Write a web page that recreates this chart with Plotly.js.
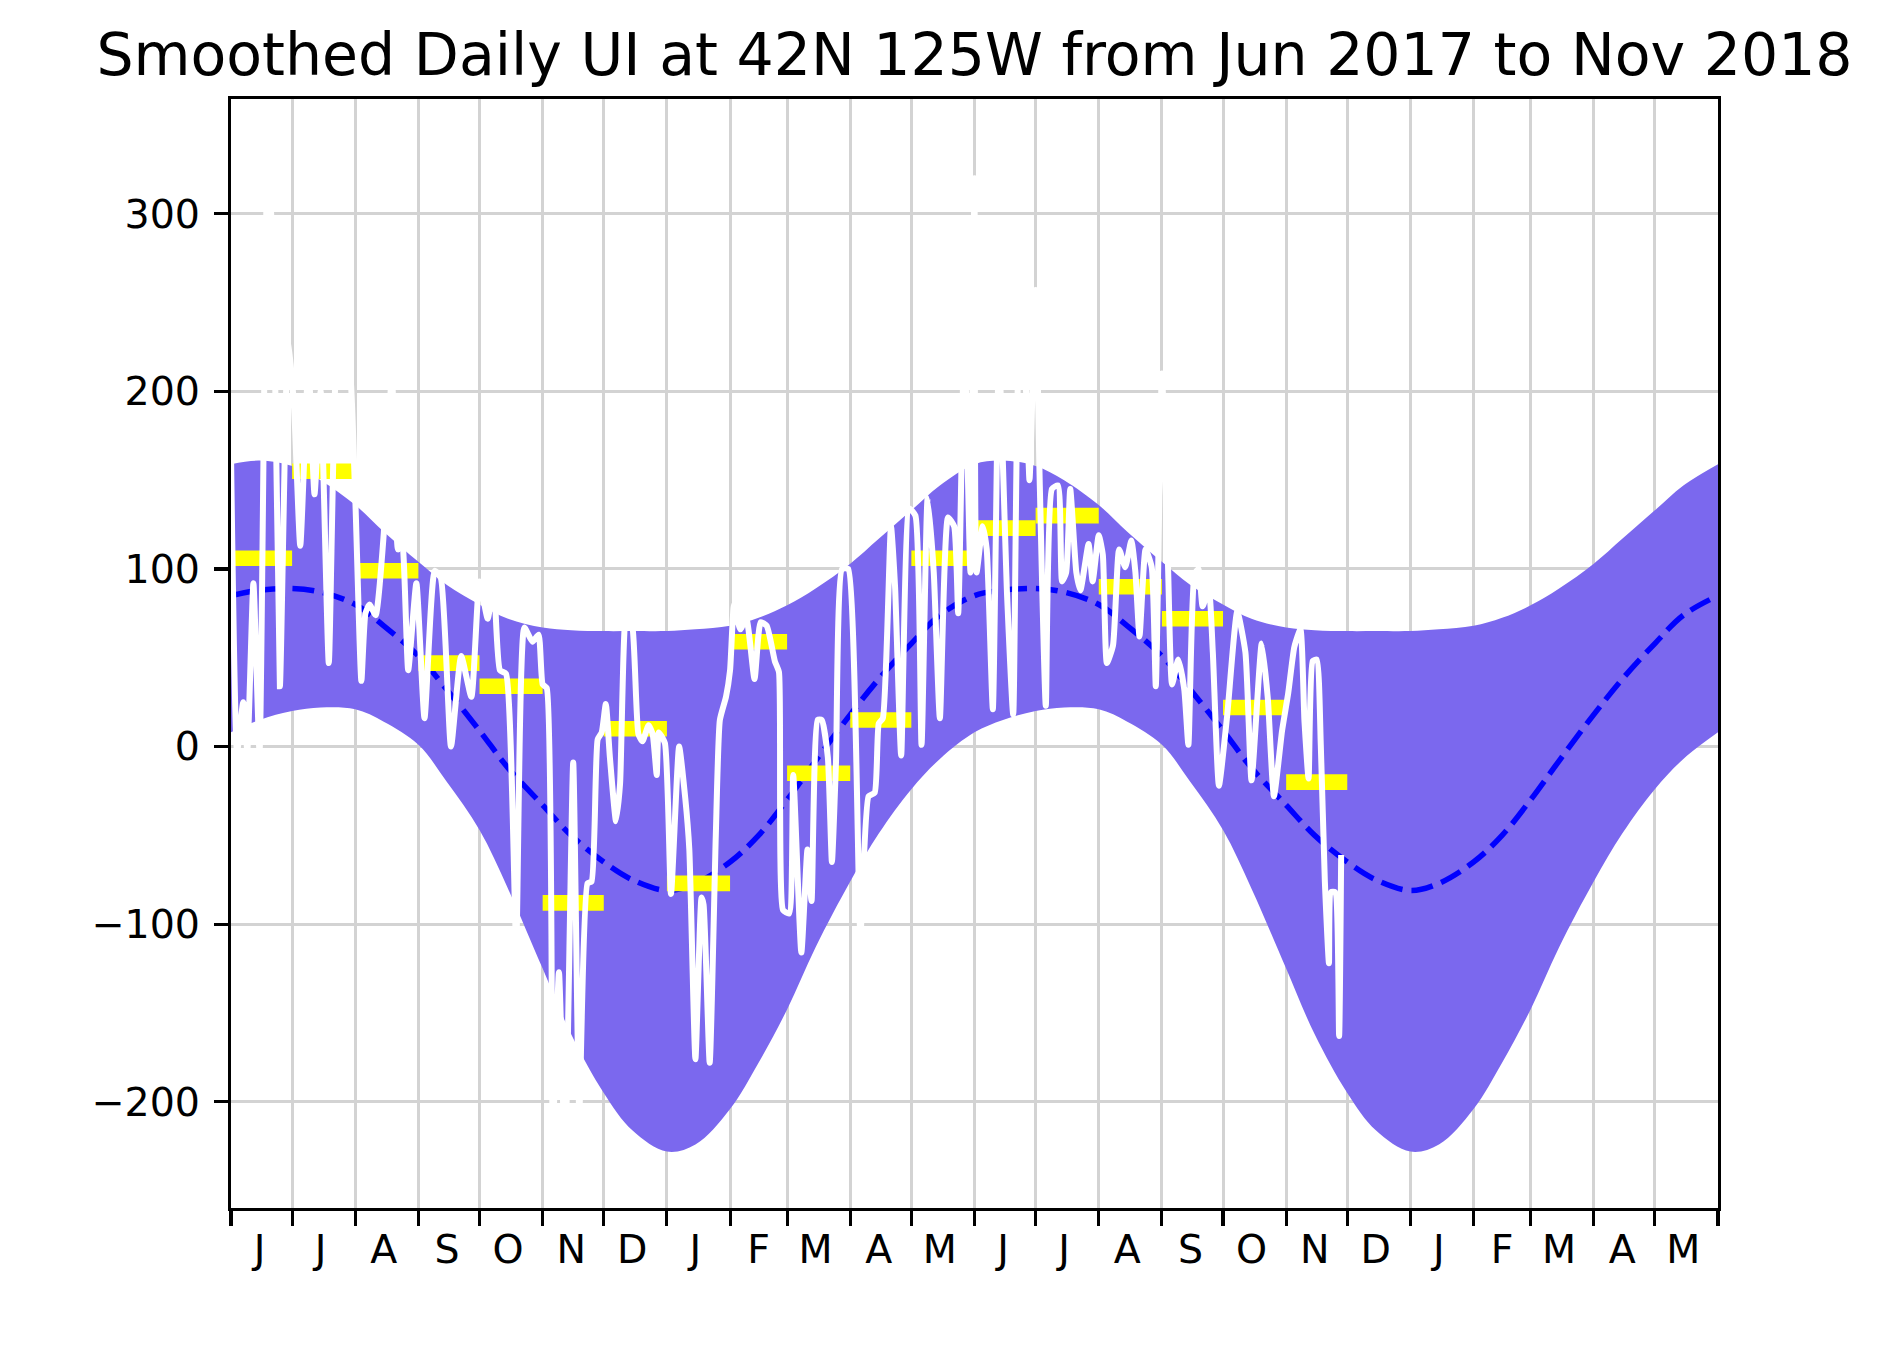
<!DOCTYPE html>
<html>
<head>
<meta charset="utf-8">
<script src="https://cdn.plot.ly/plotly-3.0.1.min.js"></script>
<style>
  html, body { margin: 0; padding: 0; background: #ffffff; }
  #chart { width: 1880px; height: 1357px; }
</style>
</head>
<body>
<div id="chart"></div>
<script>
// ---------- DATA ----------
const chartTitle = "Smoothed Daily UI at 42N 125W from Jun 2017 to Nov 2018";
const startDate = "2017-06-01";   // day 0

// smoothed daily upwelling index (day offset from 2017-06-01, value)
const uiDays = [0,3,6,8,11,14,18,21,24,28,31,34,38,41,44,48,52,55,58,61,64,66,68,71,75,79,82,84,87,91,95,100,103,108,113,118,122,126,129,132,135,140,144,148,151,153,155,158,161,164,168,171,175,177,180,182,184,186,189,191,194,197,200,202,205,207,209,210,213,216,220,223,225,228,231,232,235,238,240,243,245,247,250,253,257,260,263,267,269,271,274,276,280,283,285,288,290,293,295,297,300,303,309,313,316,318,320,324,326,329,333,336,339,342,345,348,352,355,357,360,363,365,366,369,371,374,377,381,384,387,390,392,395,397,400,403,406,408,410,412,415,417,421,423,426,428,430,433,436,439,442,444,446,449,452,454,457,460,462,465,468,470,473,475,477,480,482,485,489,494,498,501,506,509,512,516,519,522,525,527,529,531,533,535,537,539,540,542,544,545];
const uiValues = [165,-3,25,-2,92,-3,335,260,34,230,190,113,215,142,200,47,220,205,215,140,37,75,80,74,120,210,111,116,43,92,16,99,95,0,51,28,93,72,91,43,41,-110,67,59,63,35,33,-215,-127,-232,-9,-205,-77,-76,4,8,24,-6,-42,-21,75,68,7,3,12,7,-16,8,2,-83,0,-29,-58,-176,-85,-89,-178,-50,15,28,43,80,66,72,38,70,68,48,42,-92,-94,-16,-116,-58,-87,15,15,-6,-65,-9,100,100,-105,-28,-26,13,16,124,90,-5,134,130,1,140,98,16,129,124,75,230,98,320,98,124,111,21,220,85,18,220,205,150,257,150,23,145,147,93,98,145,98,88,114,93,119,108,47,57,111,101,116,98,62,111,101,34,210,102,35,49,32,1,97,100,79,89,53,-22,17,76,53,-19,58,27,-28,9,30,56,66,14,-18,48,49,1,-76,-122,-82,-82,-163,-61];

// monthly means (yellow bars)
const monthStarts = ["2017-06-01","2017-07-01","2017-08-01","2017-09-01","2017-10-01","2017-11-01","2017-12-01","2018-01-01","2018-02-01","2018-03-01","2018-04-01","2018-05-01","2018-06-01","2018-07-01","2018-08-01","2018-09-01","2018-10-01","2018-11-01","2018-12-01"];
const monthMeans = [106,155,99,47,34,-88,10,-77,59,-15,15,106,123,130,90,72,22,-20];

// climatology over one Jun-May cycle (day offset from Jun 1)
const climOffsets = [0,14,30,44,61,75,92,106,122,136,153,167,183,197,214,228,245,259,273,287,304,318,334,348];
const climMean  = [85,88,89,87,80,68,51,32,9,-12,-33,-50,-65,-75,-81,-77,-65,-50,-30,-8,18,38,58,74];
const climUpper = [159,161,158,150,136,121,104,91,80,72,67,65.5,65,65,65,66,68,72.5,79.5,89,103,117,133,147];
const climLower = [8,15,20,22,21,14,1,-20,-47,-80,-125,-162,-195,-216,-228,-224,-204,-178,-148,-113,-76,-49,-24,-7];

// axis labels
const monthTickStarts = ["2017-06-01","2017-07-01","2017-08-01","2017-09-01","2017-10-01","2017-11-01","2017-12-01","2018-01-01","2018-02-01","2018-03-01","2018-04-01","2018-05-01","2018-06-01","2018-07-01","2018-08-01","2018-09-01","2018-10-01","2018-11-01","2018-12-01","2019-01-01","2019-02-01","2019-03-01","2019-04-01","2019-05-01","2019-06-01"];
const monthLetters = ["J","J","A","S","O","N","D","J","F","M","A","M","J","J","A","S","O","N","D","J","F","M","A","M"];
const yTicks = [-200,-100,0,100,200,300];

// ---------- BUILD ----------
const base = Date.UTC(2017, 5, 1);
function dayToDate(d) {
  return new Date(base + d * 86400000).toISOString().slice(0, 10);
}
const uiX = uiDays.map(dayToDate);

const climX = [], meanY = [], upY = [], loY = [];
for (let yr = 0; yr < 2; yr++) {
  for (let i = 0; i < climOffsets.length; i++) {
    climX.push(dayToDate(climOffsets[i] + 365 * yr));
    meanY.push(climMean[i]); upY.push(climUpper[i]); loY.push(climLower[i]);
  }
}
climX.push(dayToDate(730)); meanY.push(climMean[0]); upY.push(climUpper[0]); loY.push(climLower[0]);

const barX = [], barY = [];
for (let i = 0; i < monthMeans.length; i++) {
  barX.push(monthStarts[i], monthStarts[i + 1], null);
  barY.push(monthMeans[i], monthMeans[i], null);
}
// label positions at the 15th of each month
const labelVals = monthTickStarts.slice(0, 24).map(s => s.slice(0, 8) + "15");

const smooth = { shape: "spline", smoothing: 1.0 };
const traces = [
  { x: climX, y: loY, mode: "lines", line: Object.assign({ width: 0 }, smooth), hoverinfo: "skip", showlegend: false },
  { x: climX, y: upY, mode: "lines", fill: "tonexty", fillcolor: "#7B68EE", line: Object.assign({ width: 0 }, smooth), hoverinfo: "skip", showlegend: false },
  { x: climX, y: meanY, mode: "lines", line: Object.assign({ color: "#0000FF", width: 5.5, dash: "22px,9px" }, smooth), showlegend: false },
  { x: barX, y: barY, mode: "lines", connectgaps: false, line: { color: "#FFFF00", width: 15.6 }, showlegend: false },
  { x: uiX, y: uiValues, mode: "lines", line: { color: "#FFFFFF", width: 6, shape: "spline", smoothing: 0.5 }, showlegend: false }
];

const fontFam = "DejaVu Sans, Liberation Sans, sans-serif";
const layout = {
  width: 1880, height: 1357,
  margin: { l: 231, r: 162, t: 99, b: 149, pad: 0 },
  paper_bgcolor: "#ffffff", plot_bgcolor: "#ffffff",
  font: { family: fontFam, size: 39, color: "#000000" },
  title: { text: chartTitle, font: { family: fontFam, size: 58.5, color: "#000000" }, x: 0.5, xref: "paper", xanchor: "center", y: 1 - 55 / 1357, yref: "container", yanchor: "middle" },
  showlegend: false,
  xaxis: {
    type: "date",
    range: ["2017-06-01", "2019-06-01"],
    tickmode: "array", tickvals: labelVals, ticktext: monthLetters,
    ticks: "", showgrid: false, zeroline: false,
    showline: true, linecolor: "#000000", linewidth: 3.1, mirror: true,
    ticklabelstandoff: 4,
    tickfont: { family: fontFam, size: 39.5, color: "#000000" },
    minor: { tickmode: "array", tickvals: monthTickStarts, ticks: "outside", ticklen: 15, tickwidth: 3.1, tickcolor: "#000000", showgrid: true, gridcolor: "#d3d3d3", gridwidth: 3 }
  },
  yaxis: {
    range: [-259.8, 364.6],
    tickmode: "array", tickvals: yTicks,
    ticks: "outside", ticklen: 14, tickwidth: 3.1, tickcolor: "#000000",
    ticklabelstandoff: 6,
    showgrid: true, gridcolor: "#d3d3d3", gridwidth: 3, zeroline: false,
    showline: true, linecolor: "#000000", linewidth: 3.1, mirror: true,
    tickfont: { family: fontFam, size: 39.5, color: "#000000" }
  }
};

Plotly.newPlot("chart", traces, layout, { displayModeBar: false, staticPlot: true });
</script>
</body>
</html>
